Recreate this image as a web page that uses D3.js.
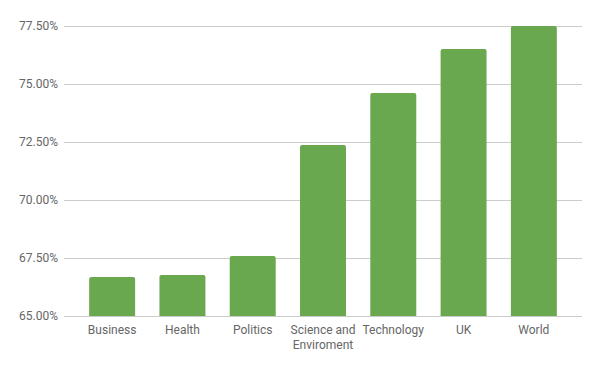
<!DOCTYPE html>
<html><head><meta charset="utf-8">
<script src="https://cdn.jsdelivr.net/npm/d3@7"></script>
<style>body{margin:0;background:#fff}svg{display:block}</style>
</head><body><svg id="c" width="600" height="371"></svg>
<script>
const categories = ["Business","Health","Politics","Science and Enviroment","Technology","UK","World"];
const values = [0.6668, 0.6677, 0.6759, 0.7237, 0.7461, 0.7651, 0.7750];
const yTicks = [0.65, 0.675, 0.70, 0.725, 0.75, 0.775];

const svg = d3.select("#c");
const y = d3.scaleLinear().domain([0.65, 0.775]).range([316, 26]);
const x = d3.scaleBand().domain(categories).range([77, 569]).paddingInner(0.346).paddingOuter(0.173);

// gridlines
svg.append("g").selectAll("line").data(yTicks).join("line")
  .attr("x1", 64).attr("x2", 582)
  .attr("y1", d => Math.round(y(d)) + 0.5).attr("y2", d => Math.round(y(d)) + 0.5)
  .attr("stroke", "#cccccc").attr("stroke-width", 1);

// y labels
const fmt = d3.format(".2%");
svg.append("g").selectAll("text").data(yTicks).join("text")
  .attr("x", 58).attr("y", d => y(d) + 4)
  .attr("text-anchor", "end")
  .attr("font-family", "Roboto, sans-serif").attr("font-size", 12)
  .attr("fill", "#666666")
  .text(d => fmt(d));

// bars with slightly rounded top corners
const r = 2;
svg.append("g").selectAll("path").data(values).join("path")
  .attr("fill", "#6aa84f")
  .attr("d", (d, i) => {
    const x0 = x(categories[i]), w = x.bandwidth(), y0 = y(d), y1 = y(0.65);
    return `M${x0},${y1}V${y0 + r}Q${x0},${y0} ${x0 + r},${y0}H${x0 + w - r}Q${x0 + w},${y0} ${x0 + w},${y0 + r}V${y1}Z`;
  });

// baseline redraw
svg.append("line").attr("x1", 64).attr("x2", 582).attr("y1", 316.5).attr("y2", 316.5)
  .attr("stroke", "#cccccc");

// x labels
const xl = svg.append("g").selectAll("text").data(categories).join("text")
  .attr("x", d => x(d) + x.bandwidth() / 2).attr("y", 334)
  .attr("text-anchor", "middle")
  .attr("font-family", "Roboto, sans-serif").attr("font-size", 12)
  .attr("fill", "#666666");
xl.each(function(d) {
  const t = d3.select(this);
  const lines = d === "Science and Enviroment" ? ["Science and", "Enviroment"] : [d];
  lines.forEach((l, k) => t.append("tspan").attr("x", x(d) + x.bandwidth() / 2).attr("dy", k ? 15 : 0).text(l));
});
</script></body></html>
